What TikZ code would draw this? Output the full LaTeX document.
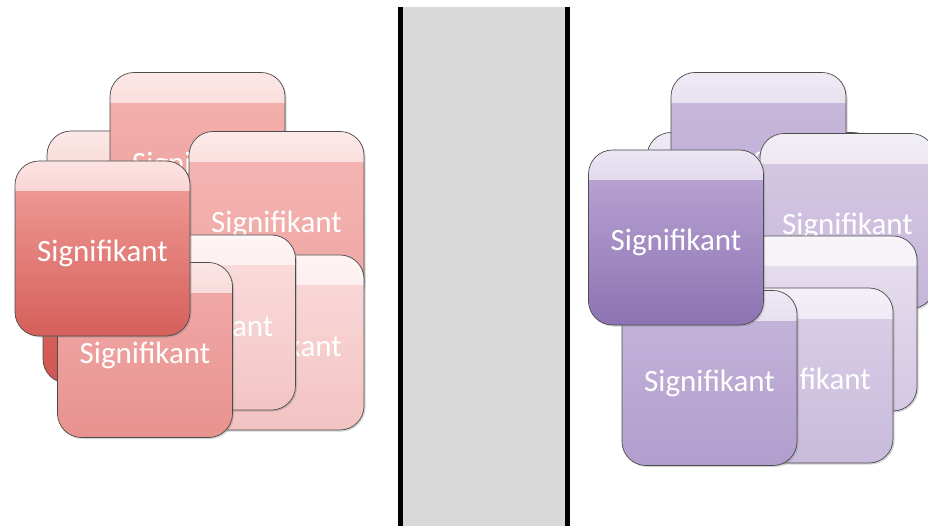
\documentclass[tikz,border=0pt]{standalone}
\usepackage{fontspec}
\newfontfamily\sigfont{Carlito}
\usetikzlibrary{shadows}

\definecolor{panelgray}{RGB}{217,217,217}
\definecolor{pinkAt}{HTML}{F3B2AF}\definecolor{pinkAb}{HTML}{EC9E9A}
\definecolor{pinkDt}{HTML}{F5B8B5}\definecolor{pinkDb}{HTML}{EEA4A1}
\definecolor{pinkEt}{HTML}{F2A29E}\definecolor{pinkEb}{HTML}{D65F5A}
\definecolor{pinkFt}{HTML}{FBDEDE}\definecolor{pinkFb}{HTML}{F3C5C5}
\definecolor{pinkGt}{HTML}{FADADA}\definecolor{pinkGb}{HTML}{F3C3C3}
\definecolor{pinkHt}{HTML}{F1ACAA}\definecolor{pinkHb}{HTML}{E8928F}
\definecolor{pinkIt}{HTML}{E07974}\definecolor{pinkIb}{HTML}{D05550}
\definecolor{lilacAt}{HTML}{C9BADB}\definecolor{lilacAb}{HTML}{BCA9D3}
\definecolor{lilacBt}{HTML}{C9BADB}\definecolor{lilacBb}{HTML}{C0AED5}
\definecolor{lilacDt}{HTML}{D6CAE3}\definecolor{lilacDb}{HTML}{C6B6DA}
\definecolor{lilacEt}{HTML}{BEAAD6}\definecolor{lilacEb}{HTML}{8D73B3}
\definecolor{lilacFt}{HTML}{E8E0EF}\definecolor{lilacFb}{HTML}{D4C8E3}
\definecolor{lilacGt}{HTML}{DAD0E7}\definecolor{lilacGb}{HTML}{C8BBDC}
\definecolor{lilacHt}{HTML}{C6B6DB}\definecolor{lilacHb}{HTML}{B19ECD}

\begin{document}
\begin{tikzpicture}
[x=1pt,y=-1pt,%
  sigbox/.style 2 args={draw=black!70,line width=0.7pt,rounded corners=24pt,%
    minimum width=175pt,minimum height=175pt,inner sep=0pt,%
    top color=#1,bottom color=#2,text=white,%
    font=\sigfont\fontsize{31}{36}\selectfont,text height=27pt,text depth=0pt,%
    drop shadow={opacity=0.35,shadow xshift=1.5pt,shadow yshift=-1.5pt},%
    path picture={\shade[sharp corners,top color=#1!30!white,
        middle color=#1!88!white,bottom color=#1!84!#2]
      (path picture bounding box.north west) rectangle
      ([yshift=-30pt]path picture bounding box.north east);}}]
\useasboundingbox (0,0) rectangle (928,526);

% divider
\fill[panelgray] (400,7) rectangle (567,526);
\coordinate (dlt) at (400.5,7);  \coordinate (dlb) at (400.5,526);
\coordinate (drt) at (567.5,7);  \coordinate (drb) at (567.5,526);
\draw[line width=5pt] (dlt) -- (dlb);
\draw[line width=5pt] (drt) -- (drb);

% left stack
\node[sigbox={pinkAt}{pinkAb}] (lB) at (134.5,218.5) {Signifikant};
\node[sigbox={pinkAt}{pinkAb}] (lA) at (197.5,160) {Signifikant};
\node[sigbox={pinkIt}{pinkIb}] (lI) at (130.5,295.5) {Signifikant};
\node[sigbox={pinkDt}{pinkDb}] (lD) at (276.5,219) {Signifikant};
\node[sigbox={pinkGt}{pinkGb}] (lG) at (276.5,342.5) {Signifikant};
\node[sigbox={pinkFt}{pinkFb}] (lF) at (208,322.5) {Signifikant};
\node[sigbox={pinkHt}{pinkHb}] (lH) at (145,350) {Signifikant};
\node[sigbox={pinkEt}{pinkEb}] (lE) at (102.5,248.5) {Signifikant};

% right stack
\node[sigbox={lilacBt}{lilacBb},minimum width=230pt] (rB) at (762,220) {Signifikant};
\node[sigbox={lilacAt}{lilacAb}] (rA) at (758.5,160) {Signifikant};
\node[sigbox={lilacDt}{lilacDb}] (rD) at (847.5,221) {Signifikant};
\node[sigbox={lilacFt}{lilacFb}] (rF) at (829.5,323.5) {Signifikant};
\node[sigbox={lilacGt}{lilacGb}] (rG) at (805.5,375.5) {Signifikant};
\node[sigbox={lilacHt}{lilacHb}] (rH) at (709.5,378) {Signifikant};
\node[sigbox={lilacEt}{lilacEb}] (rE) at (676,237.5) {Signifikant};
\end{tikzpicture}
\end{document}
